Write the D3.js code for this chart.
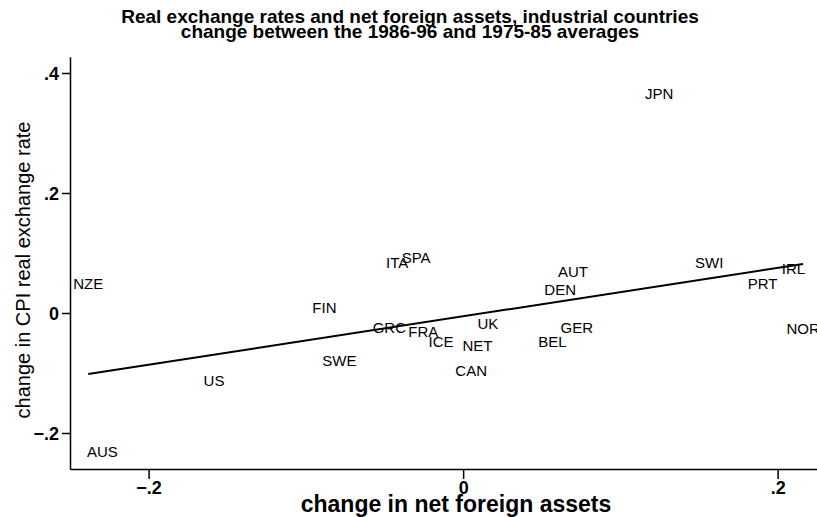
<!DOCTYPE html>
<html lang="en">
  <head>
    <meta charset="utf-8">
    <title>Real exchange rates and net foreign assets</title>
    <script src="https://cdn.jsdelivr.net/npm/d3@7"></script>
    <style>
      html, body { margin: 0; padding: 0; background: #fff; }
      svg { display: block; font-family: "Liberation Sans", Arial, Helvetica, sans-serif; }
      .axis path, .axis line { stroke: #000; stroke-width: 1.5; }
      .axis text { font-size: 18px; font-weight: bold; fill: #000; }
      .lbl { font-size: 15px; fill: #000; }
    </style>
  </head>
  <body>
    <svg width="817" height="517"></svg>
    <script>
      // data
      var countries = ['JPN','NZE','ITA','SPA','FIN','AUT','DEN','SWI','IRL','PRT','GRC',
                       'FRA','ICE','UK','NET','GER','BEL','NOR','CAN','SWE','US','AUS'];
      var nfaChange = [0.1247,-0.2384,-0.0419,-0.0299,-0.0882,0.0698,0.0617,0.1565,0.2101,0.1904,-0.0469,
                       -0.0253,-0.0140,0.0157,0.0091,0.0723,0.0568,0.2162,0.0051,-0.0787,-0.1584,-0.2294];
      var rerChange = [0.365,0.0495,0.0838,0.0928,0.0088,0.0688,0.0383,0.0838,0.0733,0.0495,-0.0238,
                       -0.0317,-0.0472,-0.0172,-0.0545,-0.0238,-0.0472,-0.0255,-0.0967,-0.0795,-0.1128,-0.2312];
      var fitIntercept = -0.0055;
      var fitSlope = 0.4033;
      var xTicks = [-0.2, 0, 0.2];
      var yTicks = [-0.2, 0, 0.2, 0.4];

      var data = countries.map(function(c, i) {
        return { name: c, x: nfaChange[i], y: rerChange[i] };
      });

      var svg = d3.select('svg');

      var x = d3.scaleLinear().domain([-0.25, 0.23]).range([70, 70 + 0.48 * 1572.5]);
      var y = d3.scaleLinear().domain([-0.26, 0.427]).range([469, 469 - 0.687 * 600]);

      var fmt = function(d) {
        return d === 0 ? '0' : d3.format('.1f')(d).replace('0.', '.');
      };

      svg.append('g')
        .attr('class', 'axis')
        .attr('transform', 'translate(70,0)')
        .call(d3.axisLeft(y).tickValues(yTicks).tickFormat(fmt).tickSize(8).tickSizeOuter(0).tickPadding(3))
        .call(function(g) { g.selectAll('text').attr('dy', '0.35em'); });

      svg.append('g')
        .attr('class', 'axis')
        .attr('transform', 'translate(0,469)')
        .call(d3.axisBottom(x).tickValues(xTicks).tickFormat(fmt).tickSize(10).tickSizeOuter(0).tickPadding(2));

      // fitted line over the range of the data
      var xExt = d3.extent(nfaChange);
      svg.append('line')
        .attr('x1', x(xExt[0])).attr('y1', y(fitIntercept + fitSlope * xExt[0]))
        .attr('x2', x(xExt[1])).attr('y2', y(fitIntercept + fitSlope * xExt[1]))
        .attr('stroke', '#000')
        .attr('stroke-width', 2);

      svg.append('g').selectAll('text')
        .data(data)
        .enter().append('text')
          .attr('class', 'lbl')
          .attr('x', function(d) { return x(d.x); })
          .attr('y', function(d) { return y(d.y); })
          .attr('dy', '0.35em')
          .attr('text-anchor', 'middle')
          .text(function(d) { return d.name; });

      // titles
      svg.append('text')
        .attr('x', 410).attr('y', 23)
        .attr('text-anchor', 'middle')
        .style('font-size', '19px').style('font-weight', 'bold')
        .text('Real exchange rates and net foreign assets, industrial countries');
      svg.append('text')
        .attr('x', 410).attr('y', 38)
        .attr('text-anchor', 'middle')
        .style('font-size', '19px').style('font-weight', 'bold')
        .text('change between the 1986-96 and 1975-85 averages');

      svg.append('text')
        .attr('x', 456).attr('y', 512)
        .attr('text-anchor', 'middle')
        .style('font-size', '23px').style('font-weight', 'bold')
        .text('change in net foreign assets');

      svg.append('text')
        .attr('transform', 'translate(30,270) rotate(-90)')
        .attr('text-anchor', 'middle')
        .style('font-size', '20px')
        .text('change in CPI real exchange rate');
    </script>
  </body>
</html>
